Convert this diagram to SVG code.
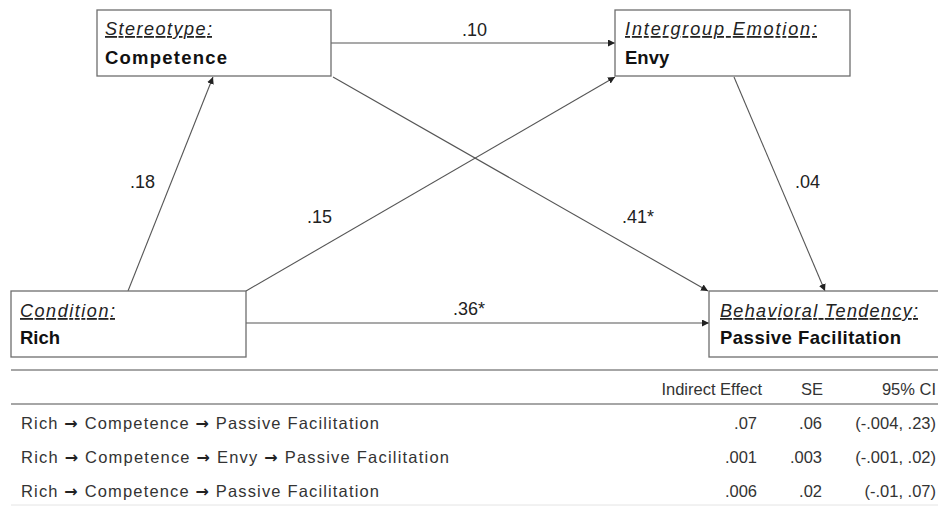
<svg xmlns="http://www.w3.org/2000/svg" width="938" height="506" viewBox="0 0 938 506">
  <defs>
    <marker id="arrow" viewBox="0 0 10 10" refX="10" refY="5" markerWidth="7" markerHeight="7" markerUnits="userSpaceOnUse" orient="auto">
      <path d="M0,0 L10,5 L0,10 z" fill="#222"/>
    </marker>
    <style>
      .box { fill: #fff; stroke: #6e6e6e; stroke-width: 1.3; }
      .edge { stroke: #555; stroke-width: 1.1; fill: none; marker-end: url(#arrow); }
      .head { font-family: "Liberation Sans", Arial, sans-serif; font-size: 18px; font-style: italic; text-decoration: underline; fill: #222; }
      .name { font-family: "Liberation Sans", Arial, sans-serif; font-size: 18.5px; font-weight: bold; fill: #111; }
      .coef { font-family: "Liberation Sans", Arial, sans-serif; font-size: 18px; fill: #222; }
      .tbl { font-family: "Liberation Sans", Arial, sans-serif; font-size: 16.5px; fill: #333; }
      .arr { font-family: "DejaVu Sans", sans-serif; font-weight: bold; font-size: 16px; fill: #222; }
      .num { text-anchor: end; }
      .rule { stroke: #888; stroke-width: 1.3; }
    </style>
  </defs>

  <rect width="938" height="506" fill="#fff"/>

  <!-- paths between the variables -->
  <g id="connectors">
    <line class="edge" x1="331" y1="43" x2="615" y2="43"/>
    <line class="edge" x1="128" y1="291" x2="213" y2="77"/>
    <line class="edge" x1="246" y1="291" x2="615" y2="77"/>
    <line class="edge" x1="333" y1="77" x2="708" y2="291"/>
    <line class="edge" x1="734" y1="77" x2="825" y2="291"/>
    <line class="edge" x1="246" y1="323" x2="709" y2="323"/>
    <text class="coef" x="462" y="36">.10</text>
    <text class="coef" x="130" y="188">.18</text>
    <text class="coef" x="307" y="223">.15</text>
    <text class="coef" x="622" y="223">.41*</text>
    <text class="coef" x="795" y="188">.04</text>
    <text class="coef" x="453" y="315">.36*</text>
  </g>

  <g id="competence">
    <rect class="box" x="97" y="10" width="234" height="66"/>
    <text class="head" x="105" y="35" textLength="107">Stereotype:</text>
    <text class="name" x="105" y="64" textLength="122">Competence</text>
  </g>

  <g id="envy">
    <rect class="box" x="615" y="10" width="235" height="66"/>
    <text class="head" x="625" y="35" textLength="192">Intergroup  Emotion:</text>
    <text class="name" x="625" y="64">Envy</text>
  </g>

  <g id="rich">
    <rect class="box" x="11" y="291" width="235" height="66"/>
    <text class="head" x="20" y="317" textLength="95">Condition:</text>
    <text class="name" x="20" y="344">Rich</text>
  </g>

  <g id="passive-facilitation">
    <rect class="box" x="709" y="291" width="240" height="66"/>
    <text class="head" x="720" y="317" textLength="198">Behavioral Tendency:</text>
    <text class="name" x="720" y="344" textLength="181">Passive Facilitation</text>
  </g>

  <!-- indirect effects table -->
  <g id="indirect-effects">
    <line class="rule" x1="11" y1="370" x2="938" y2="370"/>
    <line class="rule" x1="11" y1="404" x2="938" y2="404"/>
    <line x1="11" y1="505" x2="938" y2="505" stroke="#e4e4e4" stroke-width="1"/>
    <text class="tbl num" x="762" y="395">Indirect Effect</text>
    <text class="tbl num" x="823" y="395">SE</text>
    <text class="tbl num" x="936" y="395">95% CI</text>

    <text class="tbl" x="21" y="429" textLength="358">Rich <tspan class="arr">→</tspan> Competence <tspan class="arr">→</tspan> Passive Facilitation</text>
    <text class="tbl num" x="757" y="429">.07</text>
    <text class="tbl num" x="822" y="429">.06</text>
    <text class="tbl num" x="936" y="429">(-.004, .23)</text>

    <text class="tbl" x="21" y="463" textLength="428">Rich <tspan class="arr">→</tspan> Competence <tspan class="arr">→</tspan> Envy <tspan class="arr">→</tspan> Passive Facilitation</text>
    <text class="tbl num" x="757" y="463">.001</text>
    <text class="tbl num" x="822" y="463">.003</text>
    <text class="tbl num" x="936" y="463">(-.001, .02)</text>

    <text class="tbl" x="21" y="497" textLength="358">Rich <tspan class="arr">→</tspan> Competence <tspan class="arr">→</tspan> Passive Facilitation</text>
    <text class="tbl num" x="757" y="497">.006</text>
    <text class="tbl num" x="822" y="497">.02</text>
    <text class="tbl num" x="936" y="497">(-.01, .07)</text>
  </g>
</svg>
